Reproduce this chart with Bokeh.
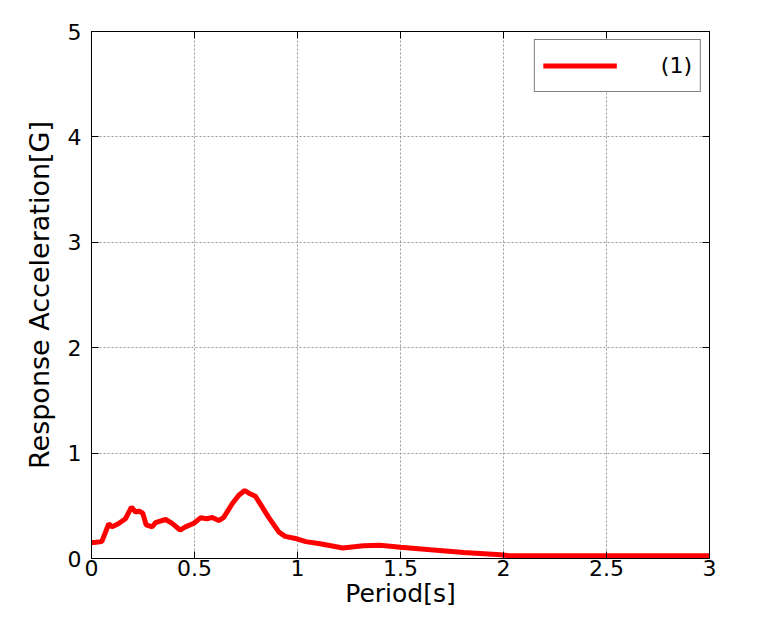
from bokeh.plotting import figure
from bokeh.models import LinearAxis, Range1d, FixedTicker, Legend, LegendItem
from bokeh.embed import file_html
from bokeh.resources import INLINE

period = [0.0, 0.05, 0.084, 0.10, 0.13, 0.165, 0.194, 0.214, 0.23, 0.249, 0.265, 0.295,
          0.31, 0.36, 0.39, 0.43, 0.456, 0.497, 0.529, 0.56, 0.586, 0.618, 0.642, 0.683,
          0.715, 0.744, 0.764, 0.796, 0.829, 0.86, 0.91, 0.94, 0.99, 1.04, 1.11, 1.22,
          1.32, 1.40, 1.50, 1.646, 1.807, 1.985, 2.03, 2.5, 3.0]
accel = [0.15, 0.16, 0.33, 0.30, 0.33, 0.377, 0.487, 0.44, 0.45, 0.43, 0.32, 0.30,
         0.34, 0.37, 0.335, 0.27, 0.30, 0.335, 0.386, 0.377, 0.39, 0.36, 0.39, 0.52,
         0.60, 0.645, 0.62, 0.59, 0.487, 0.39, 0.25, 0.21, 0.19, 0.16, 0.14, 0.10,
         0.12, 0.126, 0.107, 0.083, 0.057, 0.035, 0.026, 0.026, 0.026]
x_ticks = [0, 0.5, 1, 1.5, 2, 2.5, 3]
y_ticks = [0, 1, 2, 3, 4, 5]
series_name = "(1)"

FONT = "DejaVu Sans"

p = figure(width=773, height=612, output_backend="svg", toolbar_location=None,
           x_range=Range1d(0, 3), y_range=Range1d(0, 5),
           min_border_left=91, min_border_right=64, min_border_top=31, min_border_bottom=54,
           x_axis_label="Period[s]", y_axis_label="Response Acceleration[G]")
p.background_fill_color = "white"
p.border_fill_color = "white"
p.outline_line_color = "black"
p.outline_line_width = 1

r = p.line(period, accel, line_color="#ff0000", line_width=5)

for ax, ticks in ((p.xaxis[0], x_ticks), (p.yaxis[0], y_ticks)):
    ax.ticker = FixedTicker(ticks=ticks)
    ax.major_tick_in = 7
    ax.major_tick_out = 0
    ax.minor_tick_line_color = None
    ax.axis_line_color = "black"
    ax.major_tick_line_color = "black"
    ax.major_label_text_font = FONT
    ax.major_label_text_font_size = "22px"
    ax.major_label_text_color = "black"
    ax.axis_label_text_font = FONT
    ax.axis_label_text_font_style = "normal"
    ax.axis_label_text_color = "black"
p.xaxis[0].axis_label_text_font_size = "25px"
p.yaxis[0].axis_label_text_font_size = "27px"
p.xaxis[0].major_label_standoff = 1
p.xaxis[0].axis_label_standoff = 0
p.yaxis[0].major_label_standoff = 10
p.yaxis[0].axis_label_standoff = 10

for loc, ticks in (("above", x_ticks), ("right", y_ticks)):
    ax = LinearAxis(ticker=FixedTicker(ticks=ticks), major_tick_in=7, major_tick_out=0,
                    minor_tick_line_color=None, major_label_text_font_size="0px",
                    major_label_text_color=None, axis_line_color="black")
    p.add_layout(ax, loc)

for g in (p.xgrid[0], p.ygrid[0]):
    g.grid_line_color = "#999999"
    g.grid_line_dash = "2 2"
    g.grid_line_width = 1
p.xgrid[0].ticker = FixedTicker(ticks=x_ticks)
p.ygrid[0].ticker = FixedTicker(ticks=y_ticks)

legend = Legend(items=[LegendItem(label=series_name, renderers=[r])],
                location="top_right", margin=8, padding=8,
                glyph_width=74, glyph_height=35, label_height=35,
                label_standoff=44, spacing=0,
                label_text_font=FONT, label_text_font_size="22px",
                label_text_color="black",
                border_line_color="black", border_line_width=1,
                background_fill_color="white", background_fill_alpha=1)
p.add_layout(legend)

open("out.html", "w").write(file_html(p, INLINE))
